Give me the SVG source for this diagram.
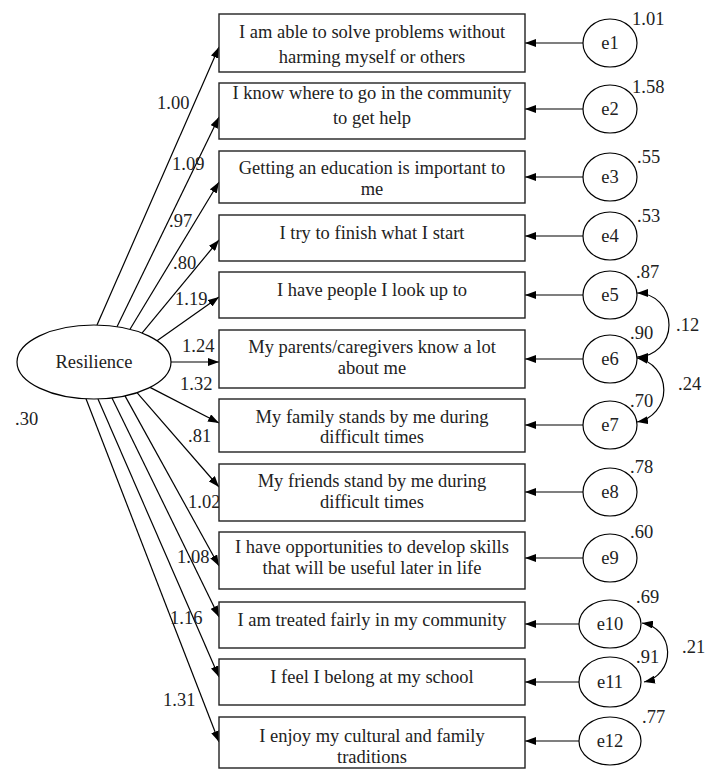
<svg xmlns="http://www.w3.org/2000/svg" width="718" height="770" viewBox="0 0 718 770">
<defs>
<marker id="ah" markerWidth="11" markerHeight="8" refX="11" refY="4" orient="auto" markerUnits="userSpaceOnUse">
<path d="M0,0 L11,4 L0,8 Z" fill="#000"/>
</marker>
<marker id="ahs" markerWidth="11" markerHeight="8" refX="11" refY="4" orient="auto-start-reverse" markerUnits="userSpaceOnUse">
<path d="M0,0 L11,4 L0,8 Z" fill="#000"/>
</marker>
</defs>
<style>
text{font-family:"Liberation Serif","Times New Roman",serif;font-size:18.5px;fill:#222;}
.c{text-anchor:middle;}
.box{fill:#fff;stroke:#222;stroke-width:1.4;}
.ell{fill:#fff;stroke:#000;stroke-width:1.2;}
.ln{fill:none;stroke:#000;stroke-width:1.2;}
</style>
<rect width="718" height="770" fill="#fff"/>
<g id="connectors">
<path class="ln" marker-end="url(#ah)" d="M97,325 L219,47"/>
<path class="ln" marker-end="url(#ah)" d="M117,326.7 L219,117"/>
<path class="ln" marker-end="url(#ah)" d="M130,329.3 L219,182"/>
<path class="ln" marker-end="url(#ah)" d="M142,333.1 L219,240"/>
<path class="ln" marker-end="url(#ah)" d="M157,340.7 L219,297"/>
<path class="ln" marker-end="url(#ah)" d="M171,362 L219,362"/>
<path class="ln" marker-end="url(#ah)" d="M150,387.4 L219,423"/>
<path class="ln" marker-end="url(#ah)" d="M137,392.7 L219,487"/>
<path class="ln" marker-end="url(#ah)" d="M125,395.9 L219,566"/>
<path class="ln" marker-end="url(#ah)" d="M112,398 L219,617"/>
<path class="ln" marker-end="url(#ah)" d="M98,399 L219,677"/>
<path class="ln" marker-end="url(#ah)" d="M86,398.8 L219,742"/>
<path class="ln" marker-end="url(#ah)" d="M583,43 L525,43"/>
<path class="ln" marker-end="url(#ah)" d="M583,109 L525,109"/>
<path class="ln" marker-end="url(#ah)" d="M583,177 L525,177"/>
<path class="ln" marker-end="url(#ah)" d="M583,236 L525,236"/>
<path class="ln" marker-end="url(#ah)" d="M583,295 L525,295"/>
<path class="ln" marker-end="url(#ah)" d="M583,359 L525,359"/>
<path class="ln" marker-end="url(#ah)" d="M583,425 L525,425"/>
<path class="ln" marker-end="url(#ah)" d="M583,492 L525,492"/>
<path class="ln" marker-end="url(#ah)" d="M583,558 L525,558"/>
<path class="ln" marker-end="url(#ah)" d="M579,624 L525,624"/>
<path class="ln" marker-end="url(#ah)" d="M579,682 L525,682"/>
<path class="ln" marker-end="url(#ah)" d="M579,741 L525,741"/>
<path class="ln" marker-start="url(#ahs)" marker-end="url(#ahs)" d="M637,293 A32,32 0 0 1 637,357"/>
<path class="ln" marker-start="url(#ahs)" marker-end="url(#ahs)" d="M637,358 A32.5,32.5 0 0 1 637,422"/>
<path class="ln" marker-start="url(#ahs)" marker-end="url(#ahs)" d="M642,623 A30,30 0 0 1 644,682"/>
<text x="157" y="109">1.00</text>
<text x="172" y="170">1.09</text>
<text x="169" y="227">.97</text>
<text x="173" y="269">.80</text>
<text x="175" y="305">1.19</text>
<text x="182" y="352">1.24</text>
<text x="180" y="390">1.32</text>
<text x="15" y="425">.30</text>
<text x="188" y="442">.81</text>
<text x="188" y="508">1.02</text>
<text x="177" y="563">1.08</text>
<text x="170" y="624">1.16</text>
<text x="163" y="706">1.31</text>
<text x="676" y="331">.12</text>
<text x="678" y="390">.24</text>
<text x="682" y="653">.21</text>
</g>
<g id="resilience">
<ellipse class="ell" cx="94" cy="362" rx="77" ry="37"/>
<text class="c" x="94" y="368">Resilience</text>
</g>
<g id="item1"><rect class="box" x="219" y="14" width="306" height="58"/><text class="c" x="372" y="38">I am able to solve problems without</text><text class="c" x="372" y="63">harming myself or others</text></g>
<g id="item2"><rect class="box" x="219" y="83" width="306" height="56"/><text class="c" x="372" y="99">I know where to go in the community</text><text class="c" x="372" y="124">to get help</text></g>
<g id="item3"><rect class="box" x="219" y="151" width="306" height="52"/><text class="c" x="372" y="174">Getting an education is important to</text><text class="c" x="372" y="195">me</text></g>
<g id="item4"><rect class="box" x="219" y="215" width="306" height="46"/><text class="c" x="372" y="239">I try to finish what I start</text></g>
<g id="item5"><rect class="box" x="219" y="272" width="306" height="46"/><text class="c" x="372" y="296">I have people I look up to</text></g>
<g id="item6"><rect class="box" x="219" y="330" width="306" height="58"/><text class="c" x="372" y="353">My parents/caregivers know a lot</text><text class="c" x="372" y="374">about me</text></g>
<g id="item7"><rect class="box" x="219" y="399" width="306" height="53"/><text class="c" x="372" y="423">My family stands by me during</text><text class="c" x="372" y="443">difficult times</text></g>
<g id="item8"><rect class="box" x="219" y="464" width="306" height="57"/><text class="c" x="372" y="487">My friends stand by me during</text><text class="c" x="372" y="508">difficult times</text></g>
<g id="item9"><rect class="box" x="219" y="532" width="306" height="57"/><text class="c" x="372" y="553">I have opportunities to develop skills</text><text class="c" x="372" y="574">that will be useful later in life</text></g>
<g id="item10"><rect class="box" x="219" y="602" width="306" height="46"/><text class="c" x="372" y="626">I am treated fairly in my community</text></g>
<g id="item11"><rect class="box" x="219" y="659" width="306" height="46"/><text class="c" x="372" y="683">I feel I belong at my school</text></g>
<g id="item12"><rect class="box" x="219" y="717" width="306" height="51"/><text class="c" x="372" y="742">I enjoy my cultural and family</text><text class="c" x="372" y="763">traditions</text></g>
<g id="e1"><ellipse class="ell" cx="610" cy="43" rx="27" ry="24"/><text class="c" x="610" y="49">e1</text><text x="632" y="25">1.01</text></g>
<g id="e2"><ellipse class="ell" cx="610" cy="109" rx="27" ry="24"/><text class="c" x="610" y="115">e2</text><text x="632" y="93">1.58</text></g>
<g id="e3"><ellipse class="ell" cx="610" cy="177" rx="27" ry="24"/><text class="c" x="610" y="183">e3</text><text x="637" y="163">.55</text></g>
<g id="e4"><ellipse class="ell" cx="610" cy="236" rx="27" ry="24"/><text class="c" x="610" y="242">e4</text><text x="637" y="222">.53</text></g>
<g id="e5"><ellipse class="ell" cx="610" cy="295" rx="27" ry="24"/><text class="c" x="610" y="301">e5</text><text x="636" y="278">.87</text></g>
<g id="e6"><ellipse class="ell" cx="610" cy="359" rx="27" ry="24"/><text class="c" x="610" y="365">e6</text><text x="630" y="339">.90</text></g>
<g id="e7"><ellipse class="ell" cx="610" cy="425" rx="27" ry="24"/><text class="c" x="610" y="431">e7</text><text x="630" y="407">.70</text></g>
<g id="e8"><ellipse class="ell" cx="610" cy="492" rx="27" ry="24"/><text class="c" x="610" y="498">e8</text><text x="630" y="473">.78</text></g>
<g id="e9"><ellipse class="ell" cx="610" cy="558" rx="27" ry="24"/><text class="c" x="610" y="564">e9</text><text x="630" y="538">.60</text></g>
<g id="e10"><ellipse class="ell" cx="610" cy="624" rx="31" ry="24"/><text class="c" x="610" y="630">e10</text><text x="636" y="603">.69</text></g>
<g id="e11"><ellipse class="ell" cx="610" cy="682" rx="31" ry="25"/><text class="c" x="610" y="688">e11</text><text x="636" y="663">.91</text></g>
<g id="e12"><ellipse class="ell" cx="610" cy="741" rx="31" ry="24"/><text class="c" x="610" y="747">e12</text><text x="642" y="723">.77</text></g>
</svg>
